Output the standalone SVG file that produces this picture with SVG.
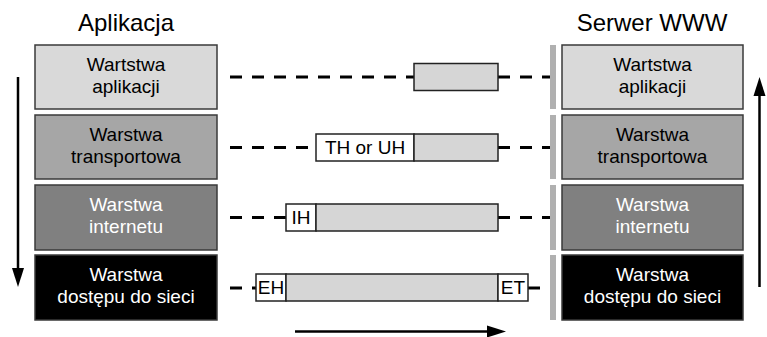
<svg xmlns="http://www.w3.org/2000/svg" width="767" height="337" viewBox="0 0 767 337">
<style>
text{font-family:"Liberation Sans",Arial,sans-serif;text-anchor:middle}
.title{font-size:24px;fill:#000}
.lbl{font-size:19px}
.dk{fill:#000}
.wt{fill:#fff}
.layer{stroke:#3a3a3a;stroke-width:1.5}
.l1{fill:#d9d9d9}
.l2{fill:#a6a6a6}
.l3{fill:#808080}
.l4{fill:#000}
.bar{fill:#b0b0b0}
.dash{stroke:#000;stroke-width:3;stroke-dasharray:12 10;fill:none}
.pk{fill:#d6d6d6;stroke:#222;stroke-width:1.5}
.hd{fill:#fff;stroke:#222;stroke-width:1.5}
.ptxt{font-size:19px;fill:#000}
.arr{stroke:#000;stroke-width:2.5;fill:none}
</style>
<defs>
<marker id="ah" viewBox="0 0 10 10" refX="5" refY="5" markerWidth="19" markerHeight="12" markerUnits="userSpaceOnUse" orient="auto" preserveAspectRatio="none" overflow="visible">
<path d="M0,0 L10,5 L0,10 Z" fill="#000"/>
</marker>
</defs>

<text class="title" x="126" y="31">Aplikacja</text>
<text class="title" x="652" y="31">Serwer WWW</text>

<g id="app-l1"><rect class="layer l1" x="35" y="45" width="182" height="64"/><text class="lbl dk" x="126" y="71">Wartstwa</text><text class="lbl dk" x="126" y="93">aplikacji</text></g>
<g id="app-l2"><rect class="layer l2" x="35" y="115" width="182" height="64"/><text class="lbl dk" x="126" y="141">Warstwa</text><text class="lbl dk" x="126" y="163">transportowa</text></g>
<g id="app-l3"><rect class="layer l3" x="35" y="185" width="182" height="65"/><text class="lbl wt" x="126" y="211">Warstwa</text><text class="lbl wt" x="126" y="233">internetu</text></g>
<g id="app-l4"><rect class="layer l4" x="35" y="255" width="182" height="65"/><text class="lbl wt" x="126" y="281">Warstwa</text><text class="lbl wt" x="126" y="303">dostępu do sieci</text></g>

<g id="srv-l1"><rect class="bar" x="550" y="45" width="6" height="64"/><rect class="layer l1" x="562" y="45" width="181" height="64"/><text class="lbl dk" x="652.5" y="71">Wartstwa</text><text class="lbl dk" x="652.5" y="93">aplikacji</text></g>
<g id="srv-l2"><rect class="bar" x="550" y="115" width="6" height="64"/><rect class="layer l2" x="562" y="115" width="181" height="64"/><text class="lbl dk" x="652.5" y="141">Warstwa</text><text class="lbl dk" x="652.5" y="163">transportowa</text></g>
<g id="srv-l3"><rect class="bar" x="550" y="185" width="6" height="65"/><rect class="layer l3" x="562" y="185" width="181" height="65"/><text class="lbl wt" x="652.5" y="211">Warstwa</text><text class="lbl wt" x="652.5" y="233">internetu</text></g>
<g id="srv-l4"><rect class="bar" x="550" y="255" width="6" height="65"/><rect class="layer l4" x="562" y="255" width="181" height="65"/><text class="lbl wt" x="652.5" y="281">Warstwa</text><text class="lbl wt" x="652.5" y="303">dostępu do sieci</text></g>

<g id="connectors">
<path class="dash" d="M230,77 H408"/><path d="M408,77 H414" stroke="#000" stroke-width="3"/>
<path class="dash" d="M498,77 H550"/>
<path class="dash" d="M230,147.5 H316"/>
<path class="dash" d="M498,147.5 H550"/>
<path class="dash" d="M230,217.5 H286"/>
<path class="dash" d="M498,217.5 H550"/>
<path class="dash" d="M230,288 H256" stroke-dasharray="12 8"/>
<path class="dash" d="M528,288 H550" stroke-dasharray="4 6 12 8"/>
<path class="arr" d="M18,77 V277.5" marker-end="url(#ah)"/>
<path class="arr" d="M759.5,287 V86.5" marker-end="url(#ah)"/>
<path class="arr" d="M295,331.5 H496.5" marker-end="url(#ah)"/>
</g>

<g id="pkt1"><rect class="pk" x="414" y="63.5" width="84" height="27"/></g>
<g id="pkt2"><rect class="hd" x="316" y="134" width="98" height="27"/><rect class="pk" x="414" y="134" width="84" height="27"/><text class="ptxt" x="365" y="154">TH or UH</text></g>
<g id="pkt3"><rect class="hd" x="286" y="204" width="30" height="27"/><rect class="pk" x="316" y="204" width="182" height="27"/><text class="ptxt" x="301" y="224">IH</text></g>
<g id="pkt4"><rect class="hd" x="256" y="274" width="30" height="27"/><rect class="pk" x="286" y="274" width="212" height="27"/><rect class="hd" x="498" y="274" width="30" height="27"/><text class="ptxt" x="271" y="294">EH</text><text class="ptxt" x="513" y="294">ET</text></g>
</svg>
